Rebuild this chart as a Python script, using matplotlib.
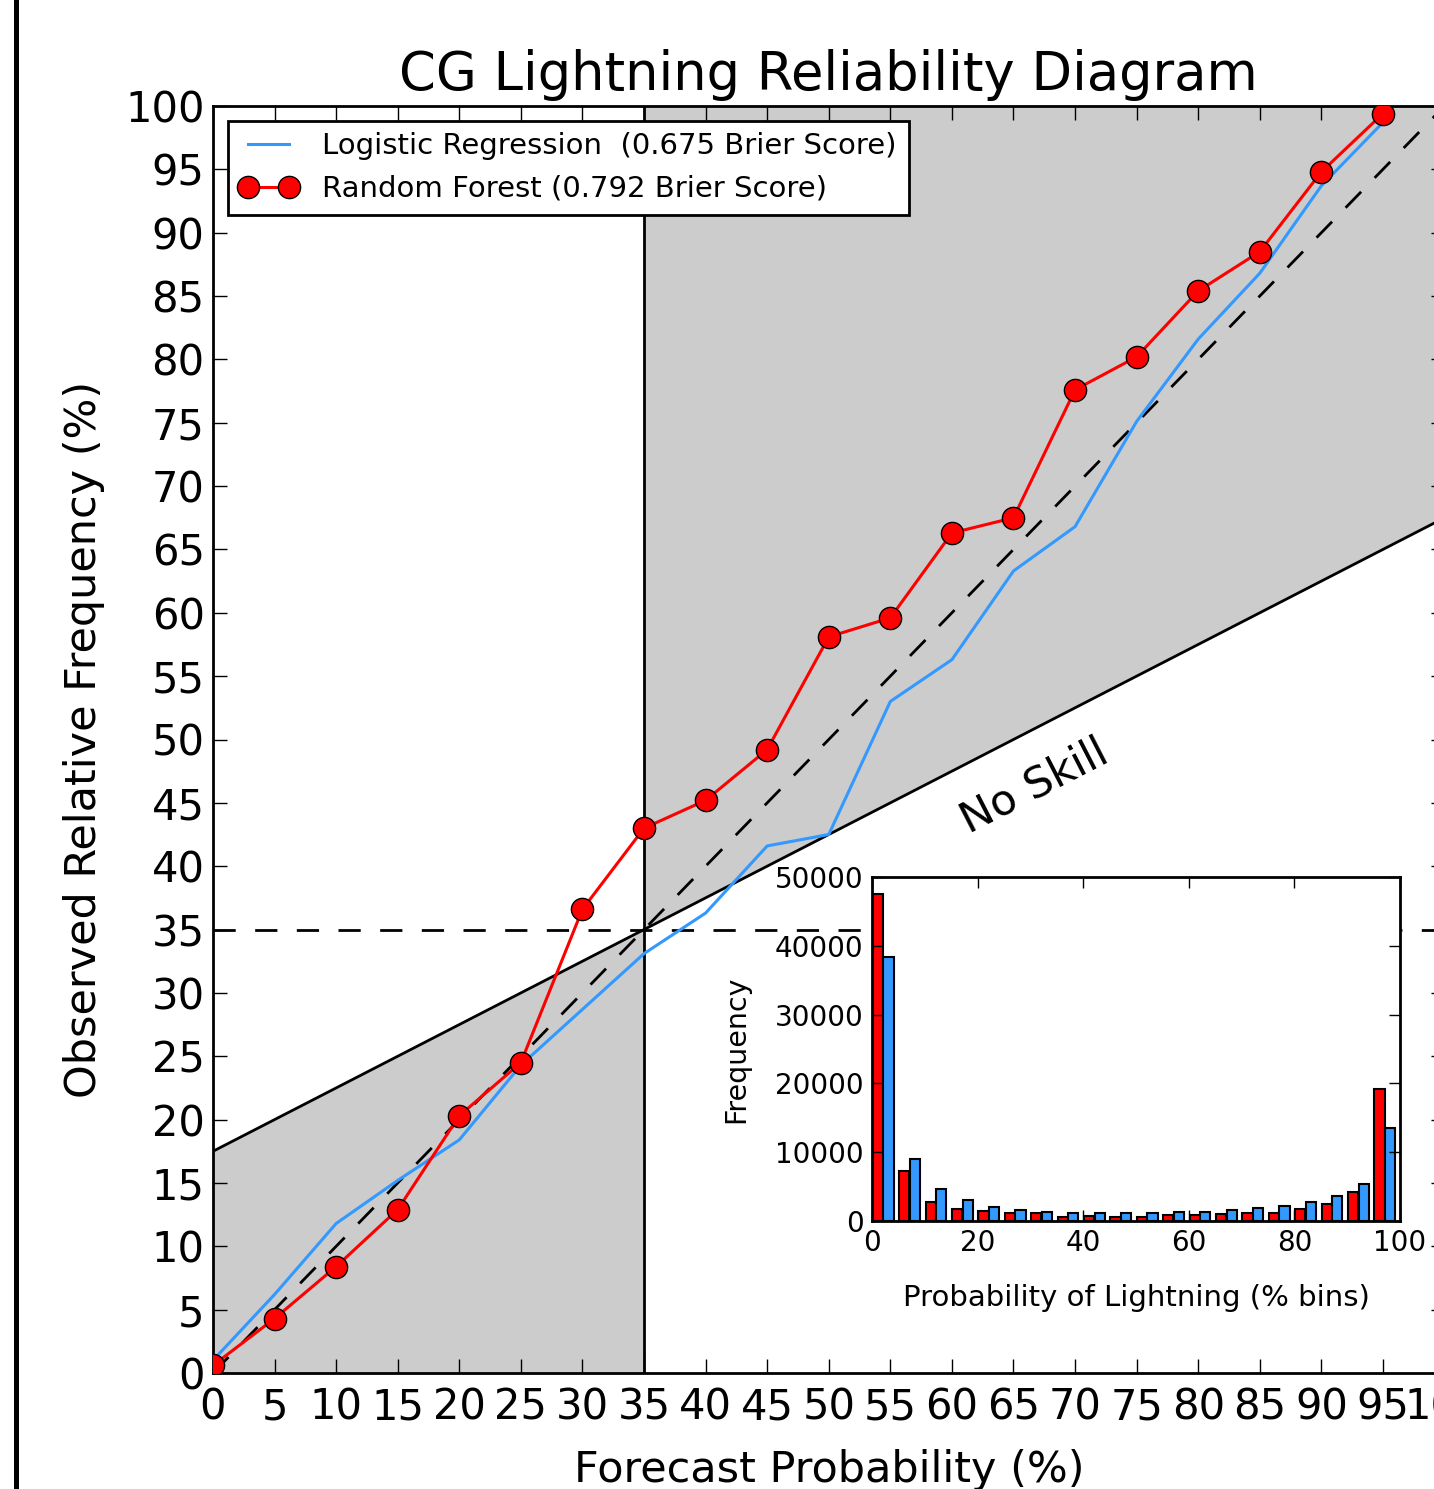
import numpy as np
import matplotlib
matplotlib.use('Agg')
import matplotlib.pyplot as plt
from matplotlib.lines import Line2D

# forecast probability bins (%), left edge of each 5% bin
forecast_prob = np.arange(0, 100, 5)
# observed relative frequency (%) in each bin
rf_obs = [0.6, 4.3, 8.4, 12.9, 20.3, 24.5, 36.6, 43.0, 45.2, 49.2,
          58.1, 59.6, 66.3, 67.5, 77.6, 80.2, 85.4, 88.5, 94.8, 99.4]
lr_obs = [1.0, 6.2, 11.8, 15.2, 18.4, 24.3, 28.7, 33.1, 36.3, 41.6,
          42.5, 53.0, 56.3, 63.3, 66.8, 75.1, 81.6, 86.8, 93.7, 98.7]
rf_label = 'Random Forest (0.792 Brier Score)'
lr_label = 'Logistic Regression  (0.675 Brier Score)'
climatology = 35.0

# histogram of forecasts (counts per 5% bin)
hist_edges = np.arange(0, 100, 5)
rf_counts = [47500, 7300, 2800, 1700, 1500, 1100, 1100, 600, 700, 600,
             650, 800, 800, 1000, 1100, 1200, 1800, 2400, 4250, 19200]
lr_counts = [38300, 9000, 4600, 3000, 2100, 1600, 1300, 1100, 1100, 1100,
             1200, 1300, 1350, 1550, 1850, 2200, 2800, 3650, 5450, 13450]

ticks_main = np.arange(0, 101, 5)
ticks_inset_x = np.arange(0, 101, 20)
ticks_inset_y = np.arange(0, 50001, 10000)

red = '#ff0000'
blue = '#3399ff'
gray = '#cccccc'

W, H = 1434, 1489
fig = plt.figure(figsize=(W / 100, H / 100), dpi=100)

# main reliability axes (right edge runs past the figure like the original)
ax = fig.add_axes([213 / W, (H - 1373) / H, (1444.5 - 213) / W, (1373 - 106) / H])
ax.set_xlim(0, 100)
ax.set_ylim(0, 100)

xs = np.array([0, 100])
no_skill = (xs + climatology) / 2.0
# shaded skill areas
xl = np.array([0, climatology])
ax.fill_between(xl, 0, (xl + climatology) / 2.0, color=gray, lw=0, zorder=0)
xr = np.array([climatology, 100])
ax.fill_between(xr, (xr + climatology) / 2.0, 100, color=gray, lw=0, zorder=0)

ax.plot(xs, no_skill, color='black', lw=2, zorder=1)
ax.axvline(climatology, color='black', lw=2, zorder=1)
ax.plot(xs, xs, color='black', lw=2, dashes=(8, 7), zorder=1)
ax.axhline(climatology, color='black', lw=2, dashes=(8, 7), zorder=1)

ax.plot(forecast_prob, lr_obs, color=blue, lw=2.2, label=lr_label, zorder=3)
ax.plot(forecast_prob, rf_obs, color=red, lw=2.2, marker='o', markersize=16,
        markeredgecolor='black', markeredgewidth=1, label=rf_label, zorder=4)

ax.text(66.7, 46.3, 'No Skill', rotation=27.2, rotation_mode='anchor',
        ha='center', va='center', fontsize=31)

ax.set_xticks(ticks_main)
ax.set_yticks(ticks_main)
ax.set_xticklabels([str(t) for t in ticks_main])
ax.set_yticklabels([str(t) for t in ticks_main])
ax.tick_params(direction='in', length=10, width=1, labelsize=30, pad=6,
               top=True, right=True)
ax.tick_params(axis='x', pad=10)
for sp in ax.spines.values():
    sp.set_linewidth(2)

ax.set_title('CG Lightning Reliability Diagram', fontsize=38, y=1.0126, pad=0)
ax.set_xlabel('Forecast Probability (%)', fontsize=31)
ax.set_ylabel('Observed Relative Frequency (%)', fontsize=31)
ax.xaxis.set_label_coords(0.5, -0.060)
ax.yaxis.set_label_coords(-0.0875, 0.5)

leg = ax.legend(loc='upper left', fontsize=21, numpoints=2, handlelength=2.0,
                handletextpad=0.85, borderaxespad=0.5, labelspacing=0.5,
                fancybox=False, framealpha=1)
leg.get_frame().set_edgecolor('black')
leg.get_frame().set_linewidth(2)

# inset histogram
ax2 = fig.add_axes([872 / W, (H - 1221) / H, 528 / W, 344 / H])
ax2.bar(hist_edges + 0.15, rf_counts, width=1.95, align='edge', color=red,
        edgecolor='black', linewidth=1.5)
ax2.bar(hist_edges + 2.15, lr_counts, width=1.95, align='edge', color=blue,
        edgecolor='black', linewidth=1.5)
ax2.set_xlim(0, 100)
ax2.set_ylim(0, 50000)
ax2.set_xticks(ticks_inset_x)
ax2.set_yticks(ticks_inset_y)
ax2.tick_params(direction='in', length=8, width=1, labelsize=20, pad=6,
                top=True, right=True)
for sp in ax2.spines.values():
    sp.set_linewidth(2)
ax2.set_xlabel('Probability of Lightning (% bins)', fontsize=21)
ax2.set_ylabel('Frequency', fontsize=20.5)
ax2.xaxis.set_label_coords(0.5, -0.183)
ax2.yaxis.set_label_coords(-0.231, 0.5)

# border line at the left edge of the screenshot
fig.add_artist(Line2D([15.5 / W, 15.5 / W], [0, 1], transform=fig.transFigure,
                      color='black', lw=3.6))

fig.savefig('out.png', dpi=100)
